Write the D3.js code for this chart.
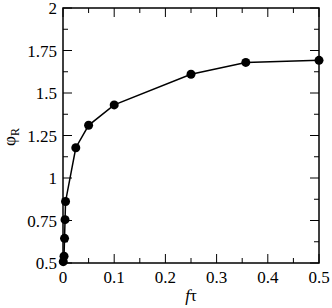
<!DOCTYPE html>
<html><head><meta charset="utf-8">
<script src="https://cdn.jsdelivr.net/npm/d3@7"></script>
<style>body{margin:0;background:#fff}</style>
</head><body>
<svg id="c" width="332" height="308" font-family="Liberation Serif"></svg>
<script>
const xValues = [0.0005, 0.002, 0.003, 0.004, 0.005, 0.025, 0.05, 0.1, 0.25, 0.357, 0.5];
const yValues = [0.508, 0.54, 0.645, 0.755, 0.862, 1.178, 1.31, 1.43, 1.61, 1.68, 1.692];
const xTicks = [0, 0.1, 0.2, 0.3, 0.4, 0.5];
const xMinor = [0.05, 0.15, 0.25, 0.35, 0.45];
const yTicks = [0.5, 0.75, 1, 1.25, 1.5, 1.75, 2];
const yMinor = [0.625, 0.875, 1.125, 1.375, 1.625, 1.875];

const svg = d3.select("#c");
const L = 63, R = 319, T = 8, B = 263;
const x = d3.scaleLinear().domain([0, 0.5]).range([L, R]);
const y = d3.scaleLinear().domain([0.5, 2]).range([B, T]);
const FS = 17;
const FF = "Liberation Serif";

const g = svg.append("g");
function ticks(vals, len, axis) {
  vals.forEach(v => {
    if (axis === "x") {
      g.append("line").attr("x1", x(v)).attr("x2", x(v)).attr("y1", B).attr("y2", B - len).attr("stroke", "#000").attr("stroke-width", 1);
      g.append("line").attr("x1", x(v)).attr("x2", x(v)).attr("y1", T).attr("y2", T + len).attr("stroke", "#000").attr("stroke-width", 1);
    } else {
      g.append("line").attr("y1", y(v)).attr("y2", y(v)).attr("x1", L).attr("x2", L + len).attr("stroke", "#000").attr("stroke-width", 1);
      g.append("line").attr("y1", y(v)).attr("y2", y(v)).attr("x1", R).attr("x2", R - len).attr("stroke", "#000").attr("stroke-width", 1);
    }
  });
}
ticks(xTicks, 9, "x"); ticks(xMinor, 5, "x");
ticks(yTicks, 9, "y"); ticks(yMinor, 5, "y");

g.append("rect").attr("x", L).attr("y", T).attr("width", R - L).attr("height", B - T)
  .attr("fill", "none").attr("stroke", "#000").attr("stroke-width", 1.5);

xTicks.forEach(v => {
  g.append("text").attr("x", x(v)).attr("y", 283).attr("text-anchor", "middle")
    .attr("font-family", FF).attr("font-size", FS).text(String(v));
});
yTicks.forEach(v => {
  g.append("text").attr("x", 57).attr("y", y(v) + 6).attr("text-anchor", "end")
    .attr("font-family", FF).attr("font-size", FS).text(String(v));
});

const xt = g.append("text").attr("x", 191).attr("y", 301).attr("text-anchor", "middle")
  .attr("font-family", FF).attr("font-size", FS);
xt.append("tspan").attr("font-style", "italic").text("f");
xt.append("tspan").text("τ");

const yt = g.append("text").attr("transform", "translate(15,137) rotate(-90)").attr("text-anchor", "middle")
  .attr("font-family", FF).attr("font-size", FS);
yt.append("tspan").text("φ");
yt.append("tspan").attr("font-size", 12).attr("dy", 4).text("R");

const data = xValues.map((v, i) => [v, yValues[i]]);
g.append("path").datum(data).attr("fill", "none").attr("stroke", "#000").attr("stroke-width", 1.5)
  .attr("d", d3.line().x(d => x(d[0])).y(d => y(d[1])));
g.selectAll("circle.p").data(data).enter().append("circle")
  .attr("cx", d => x(d[0])).attr("cy", d => y(d[1])).attr("r", 4.5).attr("fill", "#000");
</script>
</body></html>
